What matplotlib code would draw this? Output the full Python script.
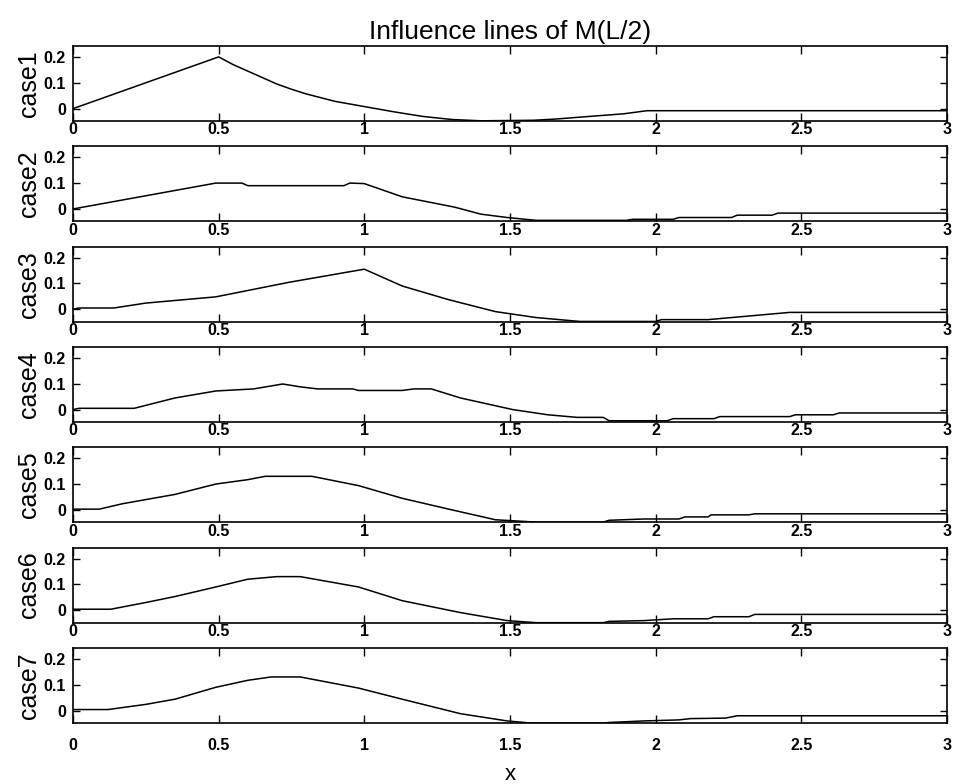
import matplotlib
matplotlib.use("Agg")
import matplotlib.pyplot as plt

plt.rcParams['font.family'] = ['Liberation Sans', 'DejaVu Sans']

title = "Influence lines of M(L/2)"
xlabel = "x"
case_labels = ["case1", "case2", "case3", "case4", "case5", "case6", "case7"]
x_ticks = [0, 0.5, 1, 1.5, 2, 2.5, 3]
x_ticklabels = ["0", "0.5", "1", "1.5", "2", "2.5", "3"]
y_ticks = [0, 0.1, 0.2]
y_ticklabels = ["0", "0.1", "0.2"]

x_case1 = [0, 0.5, 0.55, 0.6, 0.65, 0.7, 0.75, 0.8, 0.9, 1.0, 1.1, 1.2, 1.3, 1.4, 1.58, 1.66, 1.75, 1.89, 1.97, 2.2, 2.6, 3.0]
m_case1 = [0, 0.2, 0.17, 0.145, 0.12, 0.095, 0.075, 0.057, 0.028, 0.008, -0.012, -0.03, -0.042, -0.047, -0.045, -0.04, -0.032, -0.02, -0.008, -0.008, -0.008, -0.008]

x_case2 = [0, 0.49, 0.58, 0.6, 0.93, 0.95, 1.0, 1.13, 1.31, 1.40, 1.49, 1.59, 1.9, 1.92, 2.06, 2.08, 2.26, 2.28, 2.4, 2.42, 3.0]
m_case2 = [0, 0.1, 0.1, 0.09, 0.09, 0.1, 0.098, 0.047, 0.007, -0.02, -0.033, -0.044, -0.044, -0.04, -0.04, -0.033, -0.033, -0.024, -0.024, -0.016, -0.016]

x_case3 = [0, 0.02, 0.14, 0.25, 0.49, 0.74, 1.0, 1.13, 1.29, 1.45, 1.59, 1.74, 2.0, 2.02, 2.18, 2.28, 2.46, 3.0]
m_case3 = [0, 0.005, 0.005, 0.024, 0.048, 0.104, 0.155, 0.09, 0.037, -0.009, -0.032, -0.047, -0.047, -0.04, -0.04, -0.03, -0.012, -0.012]

x_case4 = [0, 0.02, 0.21, 0.35, 0.49, 0.62, 0.72, 0.78, 0.84, 0.96, 0.98, 1.13, 1.17, 1.23, 1.33, 1.51, 1.63, 1.73, 1.82, 1.84, 2.04, 2.06, 2.2, 2.22, 2.46, 2.48, 2.61, 2.63, 3.0]
m_case4 = [0, 0.005, 0.005, 0.045, 0.072, 0.08, 0.099, 0.088, 0.08, 0.08, 0.074, 0.074, 0.08, 0.08, 0.045, 0.0, -0.02, -0.03, -0.03, -0.043, -0.043, -0.035, -0.035, -0.027, -0.027, -0.02, -0.02, -0.013, -0.013]

x_case5 = [0, 0.09, 0.17, 0.35, 0.49, 0.6, 0.66, 0.82, 0.98, 1.13, 1.29, 1.45, 1.59, 1.82, 1.84, 1.96, 2.08, 2.1, 2.18, 2.19, 2.32, 2.34, 3.0]
m_case5 = [0.003, 0.003, 0.024, 0.06, 0.1, 0.117, 0.13, 0.13, 0.094, 0.045, 0.003, -0.038, -0.047, -0.047, -0.04, -0.035, -0.035, -0.027, -0.027, -0.019, -0.019, -0.015, -0.015]

x_case6 = [0, 0.13, 0.25, 0.35, 0.49, 0.6, 0.7, 0.78, 0.98, 1.13, 1.33, 1.49, 1.59, 1.82, 1.84, 1.96, 2.06, 2.18, 2.2, 2.32, 2.34, 3.0]
m_case6 = [0.004, 0.004, 0.03, 0.053, 0.09, 0.12, 0.13, 0.13, 0.09, 0.037, -0.009, -0.04, -0.048, -0.048, -0.043, -0.04, -0.033, -0.033, -0.025, -0.025, -0.016, -0.016]

x_case7 = [0, 0.12, 0.25, 0.35, 0.49, 0.6, 0.68, 0.78, 0.98, 1.13, 1.33, 1.49, 1.57, 1.82, 1.84, 1.96, 2.08, 2.12, 2.24, 2.28, 3.0]
m_case7 = [0.004, 0.004, 0.024, 0.044, 0.09, 0.117, 0.13, 0.13, 0.087, 0.044, -0.012, -0.04, -0.048, -0.048, -0.046, -0.04, -0.036, -0.031, -0.029, -0.02, -0.02]

xs = [x_case1, x_case2, x_case3, x_case4, x_case5, x_case6, x_case7]
ms = [m_case1, m_case2, m_case3, m_case4, m_case5, m_case6, m_case7]

fig = plt.figure(figsize=(9.58, 7.84), dpi=100)
gs = fig.add_gridspec(7, 1, left=0.0762, right=0.9885, top=0.9413, bottom=0.0778, hspace=0.337)

for i in range(7):
    ax = fig.add_subplot(gs[i, 0])
    ax.plot(xs[i], ms[i], color='black', linewidth=1.1)
    ax.set_xlim(0, 3)
    ax.set_ylim(-0.048, 0.242)
    ax.set_xticks(x_ticks)
    ax.set_yticks(y_ticks)
    ax.set_xticklabels(x_ticklabels, fontsize=11.5, fontweight='bold')
    ax.set_yticklabels(y_ticklabels, fontsize=11.5, fontweight='bold')
    pad_x = 11 if i == 6 else 1
    ax.tick_params(axis='x', direction='in', top=True, length=6, width=1, pad=pad_x)
    ax.tick_params(axis='y', direction='in', right=True, length=5, width=1, pad=5)
    for s in ax.spines.values():
        s.set_linewidth(1.2)
    ax.set_ylabel(case_labels[i], fontsize=18, labelpad=2)
    if i == 0:
        ax.set_title(title, fontsize=19, pad=5)
    if i == 6:
        ax.set_xlabel(xlabel, fontsize=16, labelpad=8)

fig.savefig("out.png", dpi=100)
